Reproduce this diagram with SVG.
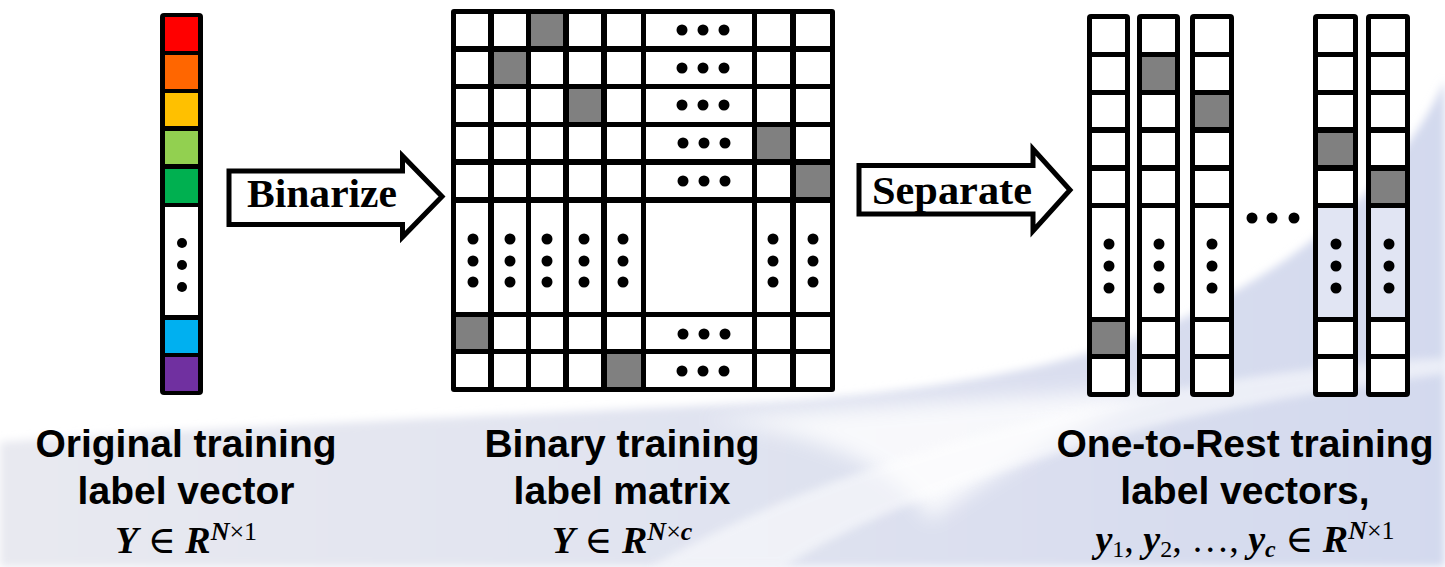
<svg xmlns="http://www.w3.org/2000/svg" width="1445" height="567" viewBox="0 0 1445 567">
  <defs>
    <linearGradient id="bgLav" x1="0" y1="0" x2="1" y2="0">
      <stop offset="0" stop-color="#e8e9f0"/>
      <stop offset="0.5" stop-color="#e0e3f0"/>
      <stop offset="1" stop-color="#d3d9ee"/>
    </linearGradient>
    <filter id="soft" x="-10%" y="-10%" width="120%" height="120%">
      <feGaussianBlur stdDeviation="4"/>
    </filter>
    <filter id="softer" x="-20%" y="-20%" width="140%" height="140%">
      <feGaussianBlur stdDeviation="10"/>
    </filter>
    <style>
      .frame { fill: #000; }
      .cell { fill: #fff; }
      .tint { fill: #e1e5f3; }
      .on { fill: #808080; }
      .dot { fill: #000; }
      .arrow { fill: #fff; stroke: #000; stroke-width: 5; stroke-linejoin: miter; }
      .verb { font-family: "Liberation Serif", "Times New Roman", serif; font-weight: bold; font-size: 40px; fill: #000; }
      .cap { font-family: "Liberation Sans", Arial, sans-serif; font-weight: bold; font-size: 39px; fill: #000; text-anchor: middle; }
      .math { font-family: "Liberation Serif", "DejaVu Serif", serif; font-size: 38px; fill: #000; text-anchor: middle; }
      .mv { font-style: italic; font-weight: bold; }
    </style>
  </defs>

  <!-- slide background -->
  <g id="background">
    <rect width="1445" height="567" fill="#fff"/>
    <path d="M0,442 C300,422 600,412 800,400 C1000,385 1120,350 1200,310 C1330,245 1410,160 1445,80 L1445,567 L0,567 Z" fill="url(#bgLav)" filter="url(#soft)"/>
    <path d="M700,420 C820,430 900,470 930,520 C1000,470 1100,410 1180,385 C1050,395 900,405 700,420 Z" fill="#fff" opacity="0.8" filter="url(#softer)"/>
    <path d="M650,567 C800,480 1000,420 1200,385 C1300,368 1400,360 1445,358 L1445,374 C1380,382 1250,402 1150,427 C980,472 850,522 785,567 Z" fill="#fff" opacity="0.55" filter="url(#soft)"/>
  </g>

  <!-- original label vector -->
  <g id="label-vector">
    <rect class="frame" x="160" y="13" width="43" height="382" rx="4"/>
    <rect x="165" y="17" width="33" height="34" fill="#ff0000"/>
    <rect x="165" y="55" width="33" height="34" fill="#ff6600"/>
    <rect x="165" y="93" width="33" height="33" fill="#ffc000"/>
    <rect x="165" y="131" width="33" height="33" fill="#92d050"/>
    <rect x="165" y="169" width="33" height="34" fill="#00b050"/>
    <rect class="cell" x="165" y="207" width="33" height="108"/>
    <rect x="165" y="320" width="33" height="33" fill="#00b0f0"/>
    <rect x="165" y="357" width="33" height="34" fill="#7030a0"/>
    <circle class="dot" cx="182" cy="243" r="5"/>
    <circle class="dot" cx="182" cy="265" r="5"/>
    <circle class="dot" cx="182" cy="287" r="5"/>
  </g>

  <!-- binary label matrix -->
  <g id="label-matrix">
    <rect class="frame" x="451" y="9" width="384" height="383" rx="3"/>
    <!-- row 1 -->
    <rect class="cell" x="456" y="14" width="32" height="32"/>
    <rect class="cell" x="494" y="14" width="32" height="32"/>
    <rect class="on" x="531" y="14" width="32" height="32"/>
    <rect class="cell" x="569" y="14" width="32" height="32"/>
    <rect class="cell" x="607" y="14" width="34" height="32"/>
    <rect class="cell" x="646" y="14" width="106" height="32"/>
    <rect class="cell" x="757" y="14" width="33" height="32"/>
    <rect class="cell" x="796" y="14" width="34" height="32"/>
    <!-- row 2 -->
    <rect class="cell" x="456" y="52" width="32" height="32"/>
    <rect class="on" x="494" y="52" width="32" height="32"/>
    <rect class="cell" x="531" y="52" width="32" height="32"/>
    <rect class="cell" x="569" y="52" width="32" height="32"/>
    <rect class="cell" x="607" y="52" width="34" height="32"/>
    <rect class="cell" x="646" y="52" width="106" height="32"/>
    <rect class="cell" x="757" y="52" width="33" height="32"/>
    <rect class="cell" x="796" y="52" width="34" height="32"/>
    <!-- row 3 -->
    <rect class="cell" x="456" y="89" width="32" height="33"/>
    <rect class="cell" x="494" y="89" width="32" height="33"/>
    <rect class="cell" x="531" y="89" width="32" height="33"/>
    <rect class="on" x="569" y="89" width="32" height="33"/>
    <rect class="cell" x="607" y="89" width="34" height="33"/>
    <rect class="cell" x="646" y="89" width="106" height="33"/>
    <rect class="cell" x="757" y="89" width="33" height="33"/>
    <rect class="cell" x="796" y="89" width="34" height="33"/>
    <!-- row 4 -->
    <rect class="cell" x="456" y="127" width="32" height="32"/>
    <rect class="cell" x="494" y="127" width="32" height="32"/>
    <rect class="cell" x="531" y="127" width="32" height="32"/>
    <rect class="cell" x="569" y="127" width="32" height="32"/>
    <rect class="cell" x="607" y="127" width="34" height="32"/>
    <rect class="cell" x="646" y="127" width="106" height="32"/>
    <rect class="on" x="757" y="127" width="33" height="32"/>
    <rect class="cell" x="796" y="127" width="34" height="32"/>
    <!-- row 5 -->
    <rect class="cell" x="456" y="165" width="32" height="32"/>
    <rect class="cell" x="494" y="165" width="32" height="32"/>
    <rect class="cell" x="531" y="165" width="32" height="32"/>
    <rect class="cell" x="569" y="165" width="32" height="32"/>
    <rect class="cell" x="607" y="165" width="34" height="32"/>
    <rect class="cell" x="646" y="165" width="106" height="32"/>
    <rect class="cell" x="757" y="165" width="33" height="32"/>
    <rect class="on" x="796" y="165" width="34" height="32"/>
    <!-- row 6: elided rows -->
    <rect class="cell" x="456" y="203" width="32" height="109"/>
    <rect class="cell" x="494" y="203" width="32" height="109"/>
    <rect class="cell" x="531" y="203" width="32" height="109"/>
    <rect class="cell" x="569" y="203" width="32" height="109"/>
    <rect class="cell" x="607" y="203" width="34" height="109"/>
    <rect class="cell" x="646" y="203" width="106" height="109"/>
    <rect class="cell" x="757" y="203" width="33" height="109"/>
    <rect class="cell" x="796" y="203" width="34" height="109"/>
    <!-- row 7 -->
    <rect class="on" x="456" y="317" width="32" height="32"/>
    <rect class="cell" x="494" y="317" width="32" height="32"/>
    <rect class="cell" x="531" y="317" width="32" height="32"/>
    <rect class="cell" x="569" y="317" width="32" height="32"/>
    <rect class="cell" x="607" y="317" width="34" height="32"/>
    <rect class="cell" x="646" y="317" width="106" height="32"/>
    <rect class="cell" x="757" y="317" width="33" height="32"/>
    <rect class="cell" x="796" y="317" width="34" height="32"/>
    <!-- row 8 -->
    <rect class="cell" x="456" y="354" width="32" height="33"/>
    <rect class="cell" x="494" y="354" width="32" height="33"/>
    <rect class="cell" x="531" y="354" width="32" height="33"/>
    <rect class="cell" x="569" y="354" width="32" height="33"/>
    <rect class="on" x="607" y="354" width="34" height="33"/>
    <rect class="cell" x="646" y="354" width="106" height="33"/>
    <rect class="cell" x="757" y="354" width="33" height="33"/>
    <rect class="cell" x="796" y="354" width="34" height="33"/>
    <!-- horizontal ellipses -->
    <g class="dot">
      <circle cx="682" cy="30" r="5.5"/><circle cx="703" cy="30" r="5.5"/><circle cx="724" cy="30" r="5.5"/>
      <circle cx="682" cy="68" r="5.5"/><circle cx="703" cy="68" r="5.5"/><circle cx="724" cy="68" r="5.5"/>
      <circle cx="682" cy="105" r="5.5"/><circle cx="703" cy="105" r="5.5"/><circle cx="724" cy="105" r="5.5"/>
      <circle cx="683" cy="143" r="5.5"/><circle cx="704" cy="143" r="5.5"/><circle cx="725" cy="143" r="5.5"/>
      <circle cx="683" cy="181" r="5.5"/><circle cx="704" cy="181" r="5.5"/><circle cx="725" cy="181" r="5.5"/>
      <circle cx="683" cy="334" r="5.5"/><circle cx="704" cy="334" r="5.5"/><circle cx="725" cy="334" r="5.5"/>
      <circle cx="682" cy="371" r="5.5"/><circle cx="703" cy="371" r="5.5"/><circle cx="724" cy="371" r="5.5"/>
    </g>
    <!-- vertical ellipses -->
    <g class="dot">
      <circle cx="473" cy="239" r="5.5"/><circle cx="473" cy="261" r="5.5"/><circle cx="473" cy="282" r="5.5"/>
      <circle cx="510" cy="239" r="5.5"/><circle cx="510" cy="261" r="5.5"/><circle cx="510" cy="282" r="5.5"/>
      <circle cx="547" cy="239" r="5.5"/><circle cx="547" cy="261" r="5.5"/><circle cx="547" cy="282" r="5.5"/>
      <circle cx="584" cy="239" r="5.5"/><circle cx="584" cy="261" r="5.5"/><circle cx="584" cy="282" r="5.5"/>
      <circle cx="623" cy="239" r="5.5"/><circle cx="623" cy="261" r="5.5"/><circle cx="623" cy="282" r="5.5"/>
      <circle cx="773" cy="239" r="5.5"/><circle cx="773" cy="261" r="5.5"/><circle cx="773" cy="282" r="5.5"/>
      <circle cx="813" cy="239" r="5.5"/><circle cx="813" cy="261" r="5.5"/><circle cx="813" cy="282" r="5.5"/>
    </g>
  </g>

  <!-- one-to-rest label vectors -->
  <g id="ovr-vector-1">
    <rect class="frame" x="1087" y="14" width="43" height="383" rx="4"/>
    <rect class="cell" x="1092" y="19" width="33" height="33"/>
    <rect class="cell" x="1092" y="57" width="33" height="33"/>
    <rect class="cell" x="1092" y="95" width="33" height="32"/>
    <rect class="cell" x="1092" y="133" width="33" height="32"/>
    <rect class="cell" x="1092" y="171" width="33" height="32"/>
    <rect class="cell" x="1092" y="208" width="33" height="109"/>
    <rect class="on" x="1092" y="322" width="33" height="32"/>
    <rect class="cell" x="1092" y="359" width="33" height="33"/>
    <circle class="dot" cx="1109" cy="244" r="5.5"/><circle class="dot" cx="1109" cy="266" r="5.5"/><circle class="dot" cx="1109" cy="288" r="5.5"/>
  </g>
  <g id="ovr-vector-2">
    <rect class="frame" x="1137" y="14" width="43" height="383" rx="4"/>
    <rect class="cell" x="1142" y="19" width="33" height="33"/>
    <rect class="on" x="1142" y="57" width="33" height="33"/>
    <rect class="cell" x="1142" y="95" width="33" height="32"/>
    <rect class="cell" x="1142" y="133" width="33" height="32"/>
    <rect class="cell" x="1142" y="171" width="33" height="32"/>
    <rect class="cell" x="1142" y="208" width="33" height="109"/>
    <rect class="cell" x="1142" y="322" width="33" height="32"/>
    <rect class="cell" x="1142" y="359" width="33" height="33"/>
    <circle class="dot" cx="1159" cy="244" r="5.5"/><circle class="dot" cx="1159" cy="266" r="5.5"/><circle class="dot" cx="1159" cy="288" r="5.5"/>
  </g>
  <g id="ovr-vector-3">
    <rect class="frame" x="1190" y="14" width="44" height="383" rx="4"/>
    <rect class="cell" x="1195" y="19" width="34" height="33"/>
    <rect class="cell" x="1195" y="57" width="34" height="33"/>
    <rect class="on" x="1195" y="95" width="34" height="32"/>
    <rect class="cell" x="1195" y="133" width="34" height="32"/>
    <rect class="cell" x="1195" y="171" width="34" height="32"/>
    <rect class="cell" x="1195" y="208" width="34" height="109"/>
    <rect class="cell" x="1195" y="322" width="34" height="32"/>
    <rect class="cell" x="1195" y="359" width="34" height="33"/>
    <circle class="dot" cx="1212" cy="244" r="5.5"/><circle class="dot" cx="1212" cy="266" r="5.5"/><circle class="dot" cx="1212" cy="288" r="5.5"/>
  </g>
  <g id="ovr-ellipsis">
    <circle class="dot" cx="1252" cy="218" r="5.5"/><circle class="dot" cx="1272" cy="218" r="5.5"/><circle class="dot" cx="1294" cy="218" r="5.5"/>
  </g>
  <g id="ovr-vector-c1">
    <rect class="frame" x="1313" y="14" width="45" height="383" rx="4"/>
    <rect class="cell" x="1318" y="19" width="35" height="33"/>
    <rect class="cell" x="1318" y="57" width="35" height="33"/>
    <rect class="cell" x="1318" y="95" width="35" height="32"/>
    <rect class="on" x="1318" y="133" width="35" height="32"/>
    <rect class="cell" x="1318" y="171" width="35" height="32"/>
    <rect class="tint" x="1318" y="208" width="35" height="109"/>
    <rect class="cell" x="1318" y="322" width="35" height="32"/>
    <rect class="cell" x="1318" y="359" width="35" height="33"/>
    <circle class="dot" cx="1336" cy="244" r="5.5"/><circle class="dot" cx="1336" cy="266" r="5.5"/><circle class="dot" cx="1336" cy="288" r="5.5"/>
  </g>
  <g id="ovr-vector-c">
    <rect class="frame" x="1366" y="14" width="44" height="383" rx="4"/>
    <rect class="cell" x="1371" y="19" width="34" height="33"/>
    <rect class="cell" x="1371" y="57" width="34" height="33"/>
    <rect class="cell" x="1371" y="95" width="34" height="32"/>
    <rect class="cell" x="1371" y="133" width="34" height="32"/>
    <rect class="on" x="1371" y="171" width="34" height="32"/>
    <rect class="tint" x="1371" y="208" width="34" height="109"/>
    <rect class="cell" x="1371" y="322" width="34" height="32"/>
    <rect class="cell" x="1371" y="359" width="34" height="33"/>
    <circle class="dot" cx="1389" cy="244" r="5.5"/><circle class="dot" cx="1389" cy="266" r="5.5"/><circle class="dot" cx="1389" cy="288" r="5.5"/>
  </g>

  <!-- process arrows -->
  <g id="connectors">
    <g id="binarize-arrow">
      <path class="arrow" d="M229,171 L402.5,171 L402.5,156 L442,196.5 L402.5,237 L402.5,224.5 L229,224.5 Z"/>
      <text class="verb" x="247" y="207" textLength="150" lengthAdjust="spacingAndGlyphs">Binarize</text>
    </g>
    <g id="separate-arrow">
      <path class="arrow" d="M859,165.5 L1033,165.5 L1033,149 L1070,190 L1033,231 L1033,214 L859,214 Z"/>
      <text class="verb" x="872" y="204" textLength="160" lengthAdjust="spacingAndGlyphs">Separate</text>
    </g>
  </g>

  <!-- captions -->
  <g id="caption-vector">
    <text class="cap" x="186" y="457">Original training</text>
    <text class="cap" x="186" y="504">label vector</text>
    <text class="math" x="186" y="553"><tspan class="mv">Y</tspan> ∈ <tspan class="mv">R</tspan><tspan font-size="26" dy="-13"><tspan class="mv">N</tspan>×1</tspan></text>
  </g>
  <g id="caption-matrix">
    <text class="cap" x="622" y="457">Binary training</text>
    <text class="cap" x="622" y="504">label matrix</text>
    <text class="math" x="622" y="553"><tspan class="mv">Y</tspan> ∈ <tspan class="mv">R</tspan><tspan font-size="26" dy="-13"><tspan class="mv">N</tspan>×<tspan class="mv">c</tspan></tspan></text>
  </g>
  <g id="caption-ovr">
    <text class="cap" x="1245" y="457">One-to-Rest training</text>
    <text class="cap" x="1245" y="504">label vectors,</text>
    <text class="math" x="1245" y="552"><tspan class="mv">y</tspan><tspan font-size="24" dy="5">1</tspan><tspan dy="-5">, </tspan><tspan class="mv">y</tspan><tspan font-size="24" dy="5">2</tspan><tspan dy="-5">, …, </tspan><tspan class="mv">y</tspan><tspan class="mv" font-size="24" dy="5">c</tspan><tspan dy="-5"> ∈ </tspan><tspan class="mv">R</tspan><tspan font-size="26" dy="-13"><tspan class="mv">N</tspan>×1</tspan></text>
  </g>
</svg>
